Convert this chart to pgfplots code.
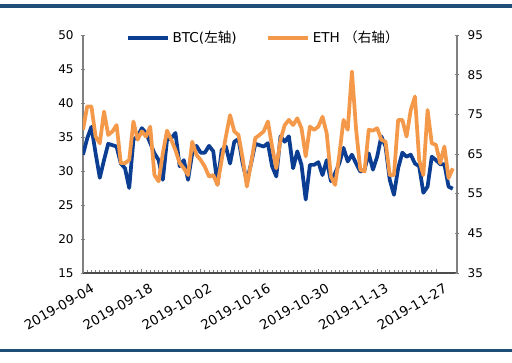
\documentclass[border=0pt]{standalone}
\usepackage{pgfplots}
\pgfplotsset{compat=1.18}
\usepackage{fontspec}
\setmainfont{DejaVu Sans}
\newfontfamily\cjk{Noto Sans CJK SC}
\definecolor{btc}{HTML}{0B3E92}
\definecolor{eth}{HTML}{F4994A}
\definecolor{frame}{HTML}{1F4E79}
\definecolor{axgray}{HTML}{808080}

\pgfplotstableread{
d btc eth
0 32.4 71.1
1 34.8 77.0
2 36.5 77.0
3 32.6 69.4
4 29.0 67.7
5 31.6 75.7
6 34.0 69.8
7 33.8 70.7
8 33.6 72.3
9 31.1 62.7
10 30.4 62.7
11 27.5 63.5
12 34.6 73.2
13 35.1 68.6
14 36.3 70.7
15 35.6 69.4
16 34.1 71.9
17 32.6 59.7
18 31.6 58.1
19 28.7 65.2
20 34.6 70.9
21 34.8 68.6
22 35.6 66.0
23 30.7 62.7
24 31.6 61.4
25 28.7 59.7
26 32.6 68.1
27 33.7 64.8
28 32.7 63.5
29 32.7 61.8
30 33.7 59.3
31 32.9 59.7
32 28.0 57.2
33 33.1 63.5
34 33.6 69.4
35 31.1 74.8
36 34.3 70.7
37 34.7 69.8
38 31.1 63.9
39 28.5 56.8
40 31.1 62.7
41 34.0 69.0
42 33.8 69.8
43 33.6 70.7
44 34.1 73.2
45 30.7 66.9
46 29.2 61.4
47 35.1 68.6
48 34.3 72.3
49 35.1 73.6
50 30.4 72.3
51 32.9 74.0
52 30.9 71.5
53 25.8 64.4
54 30.9 71.9
55 30.9 71.1
56 31.3 71.9
57 29.4 74.4
58 31.6 70.2
59 28.5 59.3
60 29.7 57.2
61 31.1 64.8
62 33.4 73.6
63 31.4 71.1
64 32.4 85.8
65 31.1 71.1
66 29.9 61.0
67 30.2 60.6
68 32.6 71.1
69 30.2 70.9
70 32.1 71.5
71 35.1 68.6
72 33.6 68.1
73 28.7 59.7
74 26.5 59.7
75 30.4 73.6
76 32.7 73.6
77 32.1 69.4
78 32.4 76.1
79 31.1 79.5
80 30.7 63.5
81 26.8 59.7
82 27.7 76.1
83 32.1 67.7
84 31.6 67.3
85 31.0 62.7
86 31.0 66.9
87 27.7 58.9
88 27.4 61.4
}\data

\begin{document}
\begin{tikzpicture}
\path[use as bounding box] (0,0) rectangle (384pt,271.5pt);
\draw[frame, line width=2.4pt] (0,267pt) -- (384pt,267pt);
\draw[frame, line width=2.4pt] (0,8.5pt) -- (384pt,8.5pt);
\pgfplotsset{
  every axis/.append style={
    scale only axis, width=280.5pt, height=178.5pt,
    at={(62.25pt,66.75pt)}, anchor=south west,
    xmin=0, xmax=89,
    tick label style={font=\fontsize{9}{10}\selectfont, text=black},
    /pgf/number format/assume math mode=true,
    axis line style={axgray, line width=0.8pt},
    major tick length=3pt,
    every tick/.style={axgray, line width=0.6pt},
  }
}
\begin{axis}[
  ymin=15, ymax=50, ytick={15,20,...,50},
  axis x line*=bottom, axis y line*=left,
  xtick={0,14,...,84},
  xticklabels={2019-09-04,2019-09-18,2019-10-02,2019-10-16,2019-10-30,2019-11-13,2019-11-27},
  minor x tick num=13,
  minor tick length=2.5pt,
  xtick align=inside, ytick align=center,
  x axis line style={black!70},
  xticklabel style={rotate=30, anchor=north east, inner sep=1pt, yshift=-8pt, xshift=2pt, font=\fontsize{10}{11}\selectfont},
  yticklabel style={xshift=-2pt},
  legend style={at={(0.483,0.987)}, anchor=center, draw=none, fill=none,
    font=\fontsize{10.2}{11}\selectfont, /tikz/every even column/.append style={column sep=20pt}},
  legend columns=2,
  legend image code/.code={\draw[#1, line width=3pt] (0pt,0pt) -- (30pt,0pt);},
]
\addplot[btc, line width=2.8pt, line join=round] table[x=d, y=btc] {\data};
\addlegendentry{BTC({\cjk 左轴})}
\addlegendimage{eth, line width=2.8pt}
\addlegendentry{ETH {\cjk （右轴）}}
\end{axis}
\begin{axis}[
  ymin=35, ymax=95, ytick={35,45,...,95},
  axis x line=none, axis y line*=right,
  ytick align=center,
  yticklabel style={xshift=3pt},
]
\addplot[eth, line width=2.8pt, line join=round] table[x=d, y=eth] {\data};
\end{axis}
\end{tikzpicture}
\end{document}
